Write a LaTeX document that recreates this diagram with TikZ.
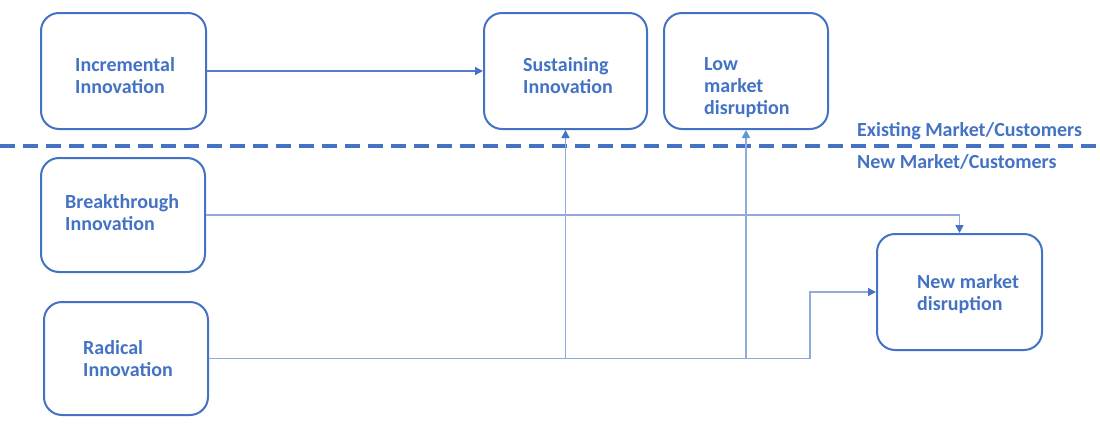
\documentclass[tikz,border=0pt]{standalone}
\usepackage{fontspec}
\setmainfont{Carlito}
\usetikzlibrary{arrows.meta,calc}
\definecolor{boxblue}{HTML}{4472C4}
\definecolor{linkblue}{HTML}{8FAADC}
\definecolor{lowblue}{HTML}{5B9BD5}
\tikzset{
  box/.style={draw=boxblue, line width=2pt, rounded corners=18pt, minimum width=#1, minimum height=116pt, inner sep=0pt, fill=white},
  box/.default=165pt,
  txt/.style={text=boxblue, font=\bfseries\fontsize{20}{22}\selectfont, align=left, inner sep=0pt, anchor=north west},
  link/.style={draw=linkblue, line width=1.6pt},
  tip/.style={-{Triangle[length=8pt,width=8pt,fill=#1,color=#1]}},
  tip/.default=boxblue
}
\begin{document}
\begin{tikzpicture}[x=1pt,y=-1pt]
\useasboundingbox (0,0) rectangle (1100,423);
% boxes
\node[box] (inc) at (123.5,71) {};
\node[box=163pt] (sus) at (565.5,71) {};
\node[box=164pt] (low) at (746,71) {};
\node[box=164pt, minimum height=114pt] (brk) at (123,215) {};
\node[box=164pt, minimum height=113pt] (rad) at (126,358.5) {};
\node[box] (nmd) at (959.5,292) {};
% texts
\node[txt] (tinc) at (75,57) {Incremental\\Innovation};
\node[txt] (tsus) at (523,57) {Sustaining\\Innovation};
\node[txt] (tlow) at (704,57) {Low\\market\\disruption};
\node[txt] (tbrk) at (65,194) {Breakthrough\\Innovation};
\node[txt] (trad) at (83,340) {Radical\\Innovation};
\node[txt] (tnmd) at (917,274) {New market\\disruption};
% market divider
\draw[boxblue, line width=4pt, dash pattern=on 15pt off 8pt] (0,146) -- (1100,146);
\node[txt, anchor=west] (exist) at (857,131) {Existing Market/Customers};
\node[txt, anchor=west] (newm) at (857,162) {New Market/Customers};
% connectors
\coordinate (j1) at (sus.south |- rad.east);
\coordinate (j2) at (low.south |- rad.east);
\coordinate (j3) at (810,358.5);
\draw[link, draw=boxblue!80!linkblue, line width=1.4pt, tip] (inc.east) -- (sus.west);
\draw[link, tip] (brk.east) -| (nmd.north);
\draw[link, tip] (rad.east) -- (j3) |- (nmd.west);
\draw[link, tip] (j1) -- (sus.south);
\draw[link, tip=lowblue] (j2) -- (low.south);
\end{tikzpicture}
\end{document}
